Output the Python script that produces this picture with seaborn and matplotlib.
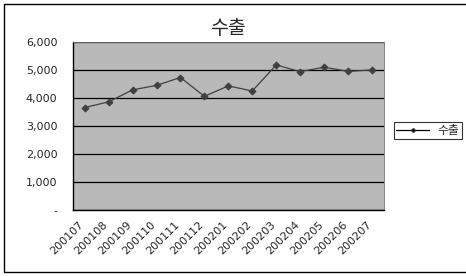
import matplotlib
matplotlib.use("Agg")
import matplotlib.pyplot as plt
import matplotlib.ticker as mticker
from matplotlib.patches import Rectangle
from matplotlib.transforms import ScaledTranslation
import pandas as pd
import seaborn as sns

months = ["200107", "200108", "200109", "200110", "200111", "200112", "200201",
          "200202", "200203", "200204", "200205", "200206", "200207"]
exports = [3660, 3860, 4290, 4450, 4730, 4060, 4430, 4250, 5180, 4940, 5100, 4950, 5000]
series_name = "수출"

df = pd.DataFrame({"month": months, "value": exports, "series": series_name})

sns.set_style("white")
plt.rcParams["font.family"] = ["DejaVu Sans", "Noto Sans CJK KR"]
kr = ["Noto Sans CJK KR", "DejaVu Sans"]

fig = plt.figure(figsize=(4.66, 2.76), dpi=100)
ax = fig.add_axes([0.156, 0.239, 0.668, 0.609])
ax.set_facecolor("#b9b9b9")

ax.set_xlim(-0.5, len(months) - 0.5)
ax.set_ylim(0, 6000)
ax.set_yticks(range(0, 6001, 1000))
ax.yaxis.grid(True, color="black", linewidth=0.9)
ax.set_axisbelow(True)

sns.lineplot(data=df, x="month", y="value", hue="series", palette=["#404040"],
             marker="D", markersize=3.5, linewidth=0.9, markeredgecolor="#404040",
             sort=False, ax=ax)

ax.yaxis.set_major_formatter(mticker.FuncFormatter(
    lambda v, _: "-" if v == 0 else f"{int(v):,}"))
ax.tick_params(axis="y", labelsize=8, length=0, pad=11)
ax.tick_params(axis="x", labelsize=8, length=0, pad=7)
shift = ScaledTranslation(-6 / 100, 0, fig.dpi_scale_trans)
for lbl in ax.get_xticklabels():
    lbl.set_rotation(45)
    lbl.set_ha("right")
    lbl.set_va("top")
    lbl.set_rotation_mode("anchor")
    lbl.set_transform(lbl.get_transform() + shift)
ax.set_xlabel("")
ax.set_ylabel("")

for side in ["left", "bottom"]:
    ax.spines[side].set_color("black")
    ax.spines[side].set_linewidth(1.0)
for side in ["top", "right"]:
    ax.spines[side].set_color("#707070")
    ax.spines[side].set_linewidth(0.6)

ax.set_title(series_name, fontsize=14, pad=6, family=kr)

handles, labels = ax.get_legend_handles_labels()
ax.get_legend().remove()
leg = fig.legend(handles, labels, loc="center", bbox_to_anchor=(0.918, 0.527),
                 prop={"family": kr, "size": 8.5}, frameon=True, fancybox=False,
                 edgecolor="black", borderpad=0.2, handlelength=2.8,
                 handletextpad=0.7)
leg.get_frame().set_linewidth(0.8)
for h in leg.legend_handles:
    h.set_color("black")
    h.set_marker("o")
    h.set_markersize(2.5)

# chart frame; its right edge runs off the picture as in the scan
fig.patches.append(Rectangle((4 / 466, 4 / 276), 470 / 466, 268 / 276,
                             transform=fig.transFigure, fill=False,
                             edgecolor="black", linewidth=1.0))

fig.savefig("out.png", dpi=100)
